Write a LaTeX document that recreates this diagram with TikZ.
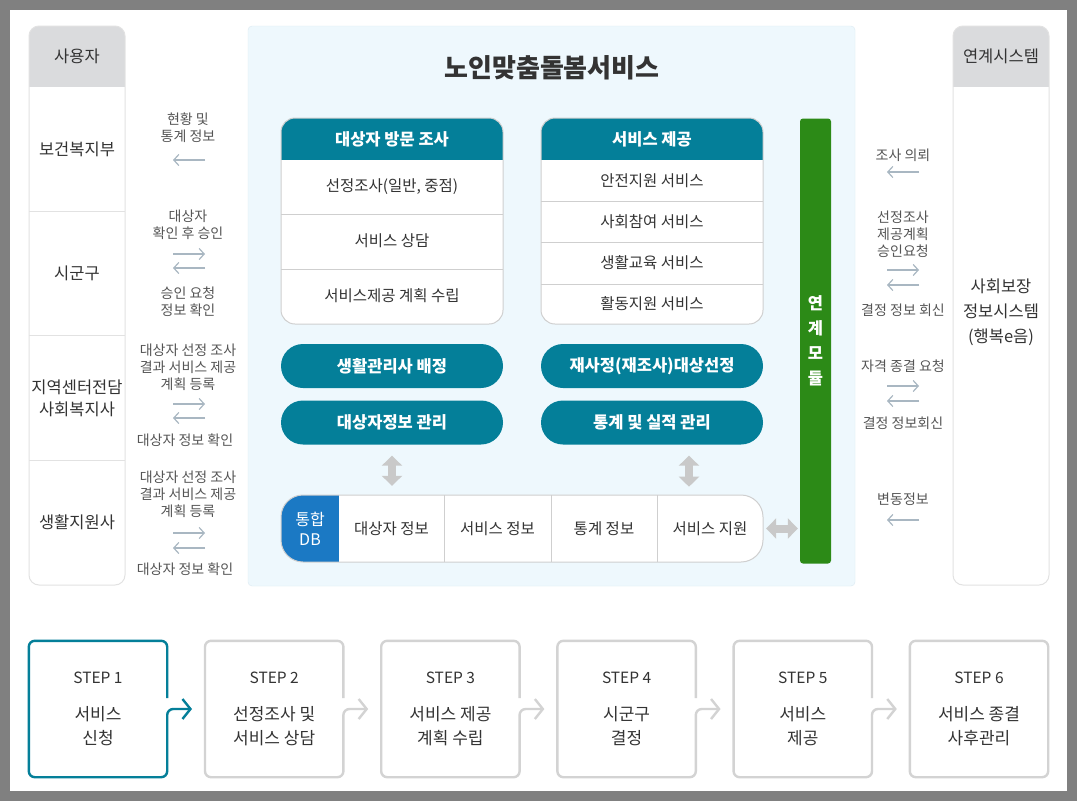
\documentclass[tikz,border=0pt]{standalone}
\usepackage{fontspec}
\setmainfont{Noto Sans CJK KR}
\usetikzlibrary{arrows.meta,positioning}

\definecolor{frame}{HTML}{808080}
\definecolor{headgray}{HTML}{DADBDD}
\definecolor{colline}{HTML}{E2E2E2}
\definecolor{panel}{HTML}{EEF8FD}
\definecolor{panelline}{HTML}{DCEAF2}
\definecolor{teal}{HTML}{047F99}
\definecolor{dbblue}{HTML}{1B79C4}
\definecolor{linkgreen}{HTML}{2C8A17}
\definecolor{txt}{HTML}{333333}
\definecolor{lbltxt}{HTML}{555555}
\definecolor{flowc}{HTML}{A9B7C2}
\definecolor{boxline}{HTML}{CFCFCF}
\definecolor{stepgray}{HTML}{D3D3D3}
\definecolor{dblc}{HTML}{C9C9C9}

\tikzset{
  cell/.style={text=txt, font=\fontsize{16.5}{22}\selectfont, align=center},
  lbl/.style={text=lbltxt, font=\fontsize{14}{17}\selectfont, align=center},
  flow/.style={-{Straight Barb[length=5pt,width=11pt]}, flowc, line width=1.2pt},
  head/.style={text=white, font=\fontsize{16.5}{20}\selectfont\bfseries},
  row/.style={text=txt, font=\fontsize{15.5}{18}\selectfont},
  pill/.style={fill=teal, rounded corners=22pt, minimum width=222pt, minimum height=44pt,
    text=white, font=\fontsize{16.5}{20}\selectfont\bfseries},
  dbcell/.style={minimum height=67pt, inner sep=0pt, text=txt, font=\fontsize{15.5}{18}\selectfont},
  dbl/.style={{Triangle[width=20pt,length=10pt]}-{Triangle[width=20pt,length=10pt]}, dblc, line width=8pt},
  stepbox/.style={minimum width=138pt, minimum height=136pt, align=center, text=txt,
    font=\fontsize{17}{24}\selectfont},
  stepline/.style={line width=2.4pt, rounded corners=6pt, -{Straight Barb[length=8pt,width=20pt]}},
}

\begin{document}
\begin{tikzpicture}[x=1pt,y=-1pt]
  \useasboundingbox (0,0) rectangle (1077,801);
  % 바탕
  \fill[frame] (0,0) rectangle (1077,801);
  \fill[white] (10,10) rectangle (1067,791);

  % 사용자 / 연계시스템 기둥
  \foreach \x in {29,953} {
    \begin{scope}
      \clip[rounded corners=10pt] (\x,26) rectangle ++(96,559);
      \fill[headgray] (\x,26) rectangle ++(96,61);
    \end{scope}
    \draw[colline, line width=1pt, rounded corners=10pt] (\x,26) rectangle ++(96,559);
  }
  \foreach \y in {211,335,460}
    \draw[colline, line width=1pt] (29,\y) -- (125,\y);

  \node[cell] (user) at (77,56) {사용자};
  \node[cell] (mohw) at (77,149) {보건복지부};
  \node[cell] (sigungu) at (77,273) {시군구};
  \node[cell] (center) at (77,398) {지역센터전담\\사회복지사};
  \node[cell] (helper) at (77,522) {생활지원사};
  \node[cell] (linksys) at (1001,56) {연계시스템};
  \node[cell, font=\fontsize{16.5}{25}\selectfont] (haengbok) at (1001,312) {사회보장\\정보시스템\\(행복e음)};

  % 노인맞춤돌봄서비스
  \draw[panelline, fill=panel, rounded corners=4pt] (248,26) rectangle (855,586);
  \node[text=txt, font=\fontsize{26}{30}\selectfont\bfseries] (title) at (552,68) {노인맞춤돌봄서비스};

  \foreach \x in {281,541} {
    \begin{scope}
      \clip[rounded corners=14pt] (\x,118) rectangle ++(222,206);
      \fill[white] (\x,118) rectangle ++(222,206);
      \fill[teal] (\x,118) rectangle ++(222,42);
    \end{scope}
    \draw[boxline, line width=1pt, rounded corners=14pt] (\x,118) rectangle ++(222,206);
  }
  \foreach \y in {214,269}
    \draw[boxline, line width=1pt] (281,\y) -- (503,\y);
  \foreach \y in {201,242,284}
    \draw[boxline, line width=1pt] (541,\y) -- (763,\y);

  \node[head] (visit) at (392,139) {대상자 방문 조사};
  \node[row] (v1) at (392,187) {선정조사(일반, 중점)};
  \node[row] (v2) at (392,241) {서비스 상담};
  \node[row] (v3) at (392,296) {서비스제공 계획 수립};

  \node[head] (serve) at (652,139) {서비스 제공};
  \node[row] (p1) at (652,181) {안전지원 서비스};
  \node[row] (p2) at (652,222) {사회참여 서비스};
  \node[row] (p3) at (652,263) {생활교육 서비스};
  \node[row] (p4) at (652,304) {활동지원 서비스};

  \node[pill] (assign) at (392,366) {생활관리사 배정};
  \node[pill] (info) at (392,422.5) {대상자정보 관리};
  \node[pill] (reassess) at (652,366) {재사정(재조사)대상선정};
  \node[pill] (stat) at (652,422.5) {통계 및 실적 관리};

  \node[fill=linkgreen, rounded corners=3pt, minimum width=31pt, minimum height=445pt,
    text=white, font=\fontsize{16.5}{25}\selectfont\bfseries, align=center] (link) at (815.5,341) {연\\계\\모\\듈};

  % 통합 DB
  \begin{scope}
    \clip[rounded corners=22pt] (281,495) rectangle (763,562);
    \fill[white] (281,495) rectangle (763,562);
    \fill[dbblue] (281,495) rectangle (339,562);
  \end{scope}
  \draw[boxline, line width=1pt, rounded corners=22pt] (281,495) rectangle (763,562);
  \foreach \x in {444,551,657}
    \draw[boxline, line width=1pt] (\x,495) -- (\x,562);
  \node[text=white, font=\fontsize{16}{20}\selectfont, align=center] (db) at (310,529) {통합\\DB};
  \node[dbcell, minimum width=105pt] (db1) at (391.5,528.5) {대상자 정보};
  \node[dbcell, minimum width=107pt] (db2) at (497.5,528.5) {서비스 정보};
  \node[dbcell, minimum width=106pt] (db3) at (604,528.5) {통계 정보};
  \node[dbcell, minimum width=106pt] (db4) at (710,528.5) {서비스 지원};

  \draw[dbl] ([yshift=-11pt]info.south) -- ([yshift=9pt]info.south |- db1.north);
  \draw[dbl] ([xshift=37pt,yshift=-11pt]stat.south) -- ([xshift=37pt,yshift=-42pt]stat.south);
  \draw[dbl] ([xshift=3pt]db4.east) -- ([xshift=-2pt]db4.east -| link.west);

  % 주고받는 정보
  \node[lbl] (l1) at (188,128) {현황 및\\통계 정보};
  \node[lbl] (l2) at (188,225) {대상자\\확인 후 승인};
  \node[lbl] (l2b) at (188,302) {승인 요청\\정보 확인};
  \node[lbl] (l3) at (188,367) {대상자 선정 조사\\결과 서비스 제공\\계획 등록};
  \node[lbl] (l3b) at (185,440) {대상자 정보 확인};
  \node[lbl] (l4) at (188,494) {대상자 선정 조사\\결과 서비스 제공\\계획 등록};
  \node[lbl] (l4b) at (185,569) {대상자 정보 확인};

  \node[lbl] (r1) at (903,155) {조사 의뢰};
  \node[lbl] (r2) at (903,234) {선정조사\\제공계획\\승인요청};
  \node[lbl] (r2b) at (903,310) {결정 정보 회신};
  \node[lbl] (r3) at (903,366) {자격 종결 요청};
  \node[lbl] (r3b) at (903,423) {결정 정보회신};
  \node[lbl] (r4) at (903,499) {변동정보};

  % 왼쪽 화살표
  \foreach \x/\y/\n in {173/160/1, 887/172/2, 173/268/3, 887/285/4, 173/418/5, 887/401/6, 173/548/7, 887/520/8} {
    \coordinate (from\n) at (\x+32,\y);
    \coordinate (to\n) at (\x,\y);
    \draw[flow] (from\n) -- (to\n);
  }
  % 오른쪽 화살표
  \foreach \x/\y/\n in {173/254/1, 887/270/2, 173/404/3, 887/386/4, 173/533/5} {
    \coordinate (rfrom\n) at (\x,\y);
    \coordinate (rto\n) at (\x+32,\y);
    \draw[flow] (rfrom\n) -- (rto\n);
  }

  % 단계
  \foreach \i/\a/\b in {1/서비스/신청, 2/선정조사 및/서비스 상담, 3/서비스 제공/계획 수립,
                        4/시군구/결정, 5/서비스/제공, 6/서비스 종결/사후관리}
    \node[stepbox] (s\i) at ({98+176.2*(\i-1)},709) {{\fontsize{15.5}{24}\selectfont STEP \i}\\[13pt]\a\\\b};

  \foreach \i/\j/\c in {1/2/teal, 2/3/stepgray, 3/4/stepgray, 4/5/stepgray, 5/6/stepgray}
    \draw[stepline, \c] ([yshift=11pt]s\i.east) -- (s\i.north east) -- (s\i.north west)
      -- (s\i.south west) -- (s\i.south east) -- (s\i.east) -- ([xshift=-13pt]s\j.west);
  \draw[stepgray, line width=2.4pt, rounded corners=6pt] (s6.south west) rectangle (s6.north east);
\end{tikzpicture}
\end{document}
